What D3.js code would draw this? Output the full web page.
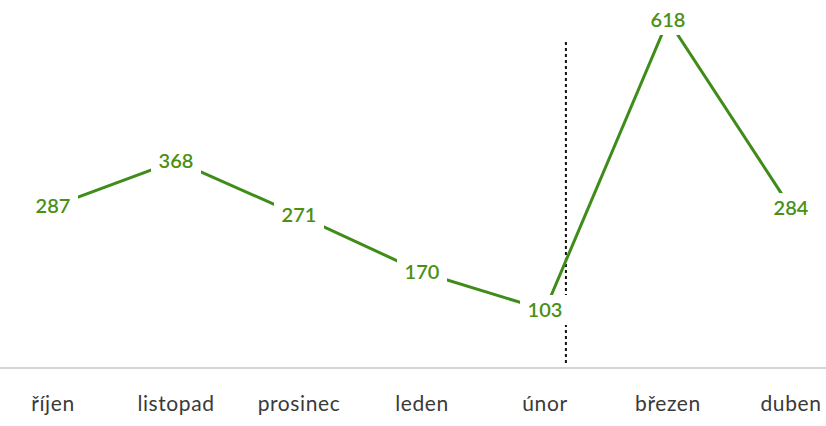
<!DOCTYPE html>
<html>
<head>
<meta charset="utf-8">
<script src="https://cdn.jsdelivr.net/npm/d3@7"></script>
<style>
  body { margin: 0; background: #fff; }
  svg { display: block; font-family: Lato, "Open Sans", sans-serif; }
</style>
</head>
<body>
<div id="main"></div>
<script>
let width = 826;
let height = 426;

let months = ["říjen", "listopad", "prosinec", "leden", "únor", "březen", "duben"];
let values = [287, 368, 271, 170, 103, 618, 284];
let markerAt = 4.17; // dashed line position, in category index units

let lineColor = "#3f8c1a";
let labelColor = "#4b8f14";

let svg = d3.select("#main")
    .append("svg")
    .attr("width", width)
    .attr("height", height);

var xScale = d3.scaleLinear().domain([0, months.length - 1]).range([53, 791]);
var yScale = d3.scaleLinear().domain([0, 618]).range([368, 20]);

// category axis
svg.append("line")
    .attr("x1", 0).attr("x2", width)
    .attr("y1", yScale(0)).attr("y2", yScale(0))
    .attr("stroke", "#d4d4d4")
    .attr("stroke-width", 2);

svg.selectAll("text.month").data(months)
    .enter()
    .append("text")
    .attr("class", "month")
    .attr("x", (d, i) => xScale(i))
    .attr("y", 411)
    .attr("text-anchor", "middle")
    .attr("font-size", 21)
    .attr("letter-spacing", 0.6)
    .attr("fill", "#3a3a3a")
    .text(d => d);

// dashed marker
svg.append("line")
    .attr("x1", xScale(markerAt)).attr("x2", xScale(markerAt))
    .attr("y1", 42).attr("y2", yScale(0) - 2)
    .attr("stroke", "#111")
    .attr("stroke-width", 2)
    .attr("stroke-dasharray", "3,3");

let line = d3.line()
    .x((d, i) => xScale(i))
    .y(d => yScale(d));

svg.append("path")
    .datum(values)
    .attr("d", line)
    .attr("fill", "none")
    .attr("stroke", lineColor)
    .attr("stroke-width", 3);

// label backgrounds cut the line around each value
svg.selectAll("rect.bg").data(values)
    .enter()
    .append("rect")
    .attr("class", "bg")
    .attr("x", (d, i) => xScale(i) - 25)
    .attr("y", d => yScale(d) - 15)
    .attr("width", 50)
    .attr("height", 30)
    .attr("fill", "#fff");

svg.selectAll("text.val").data(values)
    .enter()
    .append("text")
    .attr("class", "val")
    .attr("x", (d, i) => xScale(i))
    .attr("y", d => yScale(d) + 7)
    .attr("text-anchor", "middle")
    .attr("font-size", 20)
    .attr("font-weight", 600)
    .attr("fill", labelColor)
    .text(d => d);
</script>
</body>
</html>
